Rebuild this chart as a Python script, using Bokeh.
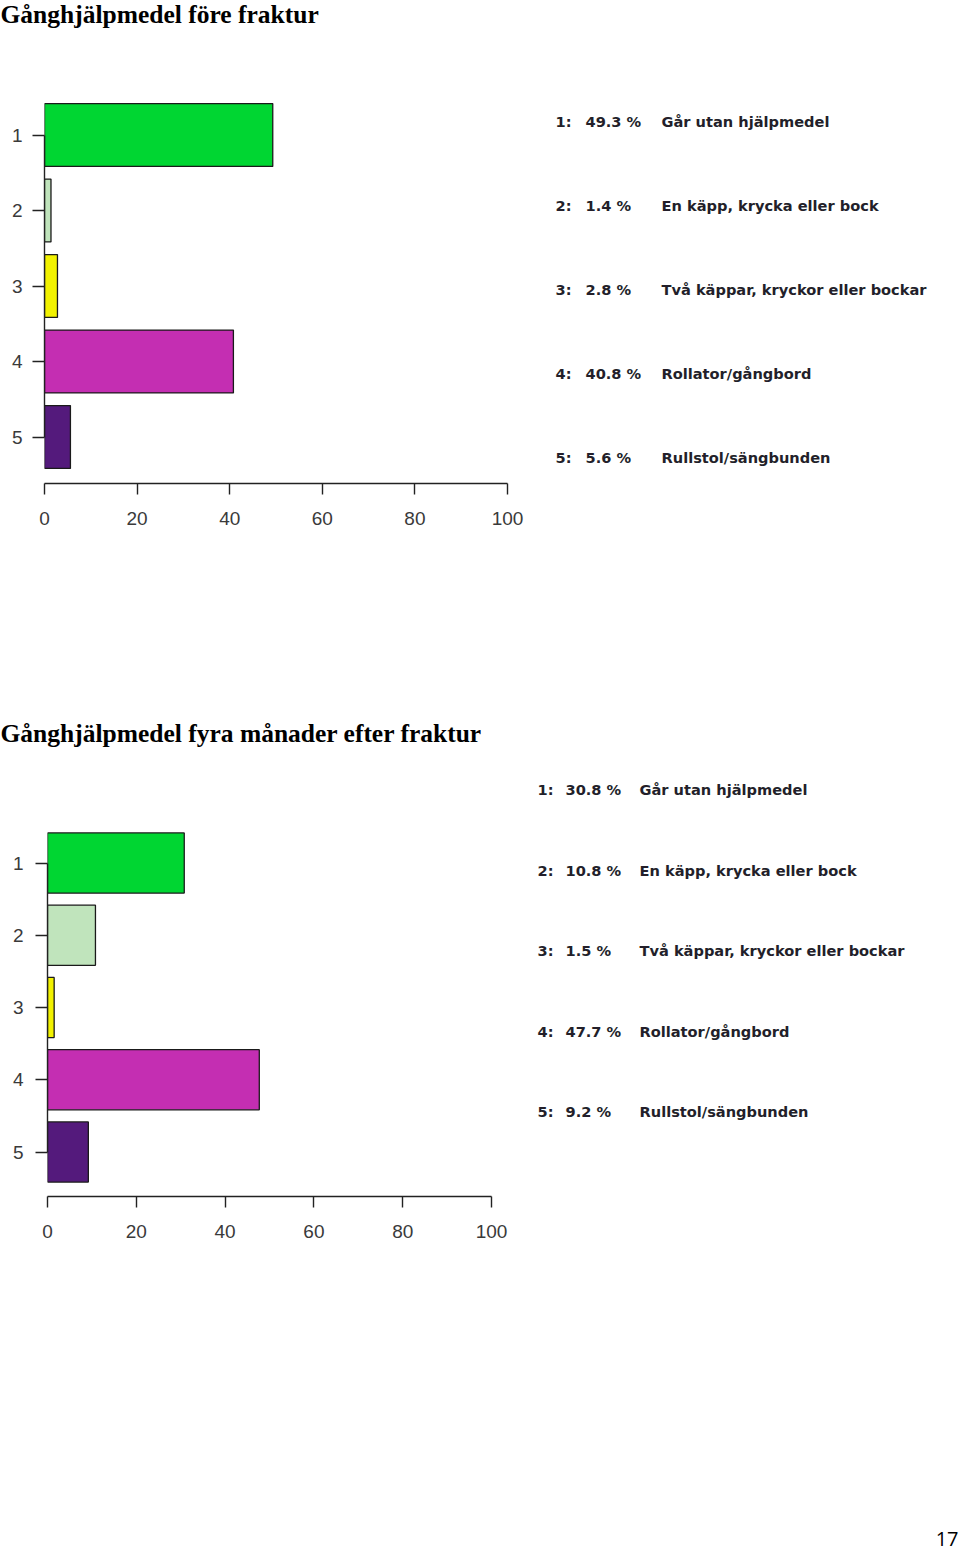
from bokeh.plotting import figure
from bokeh.models import Range1d, FixedTicker, ColumnDataSource
from bokeh.layouts import column, row
from bokeh.embed import file_html
from bokeh.resources import INLINE
from bokeh.core.properties import value

# ---------------- data ----------------
categories = [1, 2, 3, 4, 5]
category_labels = [
    "Går utan hjälpmedel",
    "En käpp, krycka eller bock",
    "Två käppar, kryckor eller bockar",
    "Rollator/gångbord",
    "Rullstol/sängbunden",
]
before_pct = [49.3, 1.4, 2.8, 40.8, 5.6]
after_pct = [30.8, 10.8, 1.5, 47.7, 9.2]
bar_colors = ["#00D632", "#C0E4BC", "#F2F200", "#C42EB2", "#541A7C"]
x_ticks = [0, 20, 40, 60, 80, 100]
titles = ["Gånghjälpmedel före fraktur", "Gånghjälpmedel fyra månader efter fraktur"]
page_number = "17"

PAGE_W = 960


def blank_fig(height):
    p = figure(width=PAGE_W, height=height, x_range=Range1d(0, PAGE_W),
               y_range=Range1d(height, 0), output_backend="svg",
               toolbar_location=None, x_axis_location=None, y_axis_location=None,
               min_border=0, min_border_left=0, min_border_right=0,
               min_border_top=0, min_border_bottom=0)
    p.title.visible = False
    p.outline_line_color = None
    p.xgrid.visible = False
    p.ygrid.visible = False
    return p


def title_fig(text, height, base):
    p = blank_fig(height)
    p.text(x=[0], y=[base], text=[text], text_font=value("Liberation Serif"),
           text_font_style="bold", text_font_size="25.5px",
           text_baseline="alphabetic", text_align="left", text_color="#000000")
    return p


def make_chart(values, fig_top, fig_h, frame_left, px_per_unit, frame_bottom,
               cat1_y, pitch, leg_cols, leg_y0, leg_pitch, y_standoff):
    fb_local = frame_bottom - fig_top
    c1_local = cat1_y - fig_top
    x_end = (PAGE_W - frame_left) / px_per_unit
    y_start = 1 + (fb_local - c1_local) / pitch
    y_end = 1 + (0 - c1_local) / pitch

    p = figure(width=PAGE_W, height=fig_h,
               x_range=Range1d(0, x_end), y_range=Range1d(y_start, y_end),
               output_backend="svg", toolbar_location=None,
               min_border_left=frame_left, min_border_right=0,
               min_border_top=0, min_border_bottom=fig_h - fb_local)
    p.title.visible = False
    p.outline_line_color = None
    p.xgrid.visible = False
    p.ygrid.visible = False

    p.extra_x_ranges = {"page": Range1d(frame_left, PAGE_W)}
    p.extra_y_ranges = {"page": Range1d(frame_bottom, fig_top)}

    src = ColumnDataSource(dict(y=categories, right=values, color=bar_colors))
    p.hbar(y="y", left=0, right="right", height=0.833, fill_color="color",
           line_color="#1a1a1a", line_width=1.3, source=src)

    xa = p.xaxis[0]
    xa.ticker = FixedTicker(ticks=x_ticks)
    xa.bounds = (0, 100)
    xa.axis_line_color = "#222222"
    xa.axis_line_width = 1.4
    xa.major_tick_line_color = "#222222"
    xa.major_tick_line_width = 1.4
    xa.major_tick_out = 11
    xa.major_tick_in = 0
    xa.minor_tick_line_color = None
    xa.major_label_text_font = "Liberation Sans"
    xa.major_label_text_font_size = "19px"
    xa.major_label_text_color = "#3a3a3a"
    xa.major_label_standoff = 17

    ya = p.yaxis[0]
    ya.ticker = FixedTicker(ticks=categories)
    ya.bounds = (1, 5)
    ya.axis_line_color = "#222222"
    ya.axis_line_width = 1.4
    ya.major_tick_line_color = "#222222"
    ya.major_tick_line_width = 1.4
    ya.major_tick_out = 12
    ya.major_tick_in = 0
    ya.minor_tick_line_color = None
    ya.major_label_text_font = "Liberation Sans"
    ya.major_label_text_font_size = "19px"
    ya.major_label_text_color = "#3a3a3a"
    ya.major_label_standoff = y_standoff

    ys = [leg_y0 + i * leg_pitch for i in range(len(categories))]
    col_num, col_pct, col_lab = leg_cols
    texts = [
        ([col_num] * 5, [f"{c}:" for c in categories]),
        ([col_pct] * 5, [f"{v} %" for v in values]),
        ([col_lab] * 5, category_labels),
    ]
    for xs, tx in texts:
        p.text(x=xs, y=ys, text=tx, x_range_name="page", y_range_name="page",
               text_font=value("DejaVu Sans"), text_font_style="bold",
               text_font_size="14.6px", text_baseline="middle", text_align="left",
               text_color="#231f2a")
    return p


t1 = title_fig(titles[0], 40, 14)
c1 = make_chart(before_pct, fig_top=40, fig_h=660, frame_left=44,
                px_per_unit=4.63, frame_bottom=483, cat1_y=134.5, pitch=75.5,
                leg_cols=(555, 585, 661), leg_y0=121, leg_pitch=84, y_standoff=10)
t2 = title_fig(titles[1], 60, 33)
c2 = make_chart(after_pct, fig_top=760, fig_h=740, frame_left=47,
                px_per_unit=4.44, frame_bottom=1196, cat1_y=862.5, pitch=72.25,
                leg_cols=(537, 565, 639), leg_y0=789, leg_pitch=80.5, y_standoff=12)

foot = blank_fig(50)
foot.text(x=[958], y=[38], text=[page_number], text_font=value("Open Sans"),
          text_font_size="20px", text_baseline="alphabetic", text_align="right",
          text_color="#000000")

layout = column(row(t1), row(c1), row(t2), row(c2), row(foot), spacing=0)
open("out.html", "w").write(file_html(layout, INLINE))
